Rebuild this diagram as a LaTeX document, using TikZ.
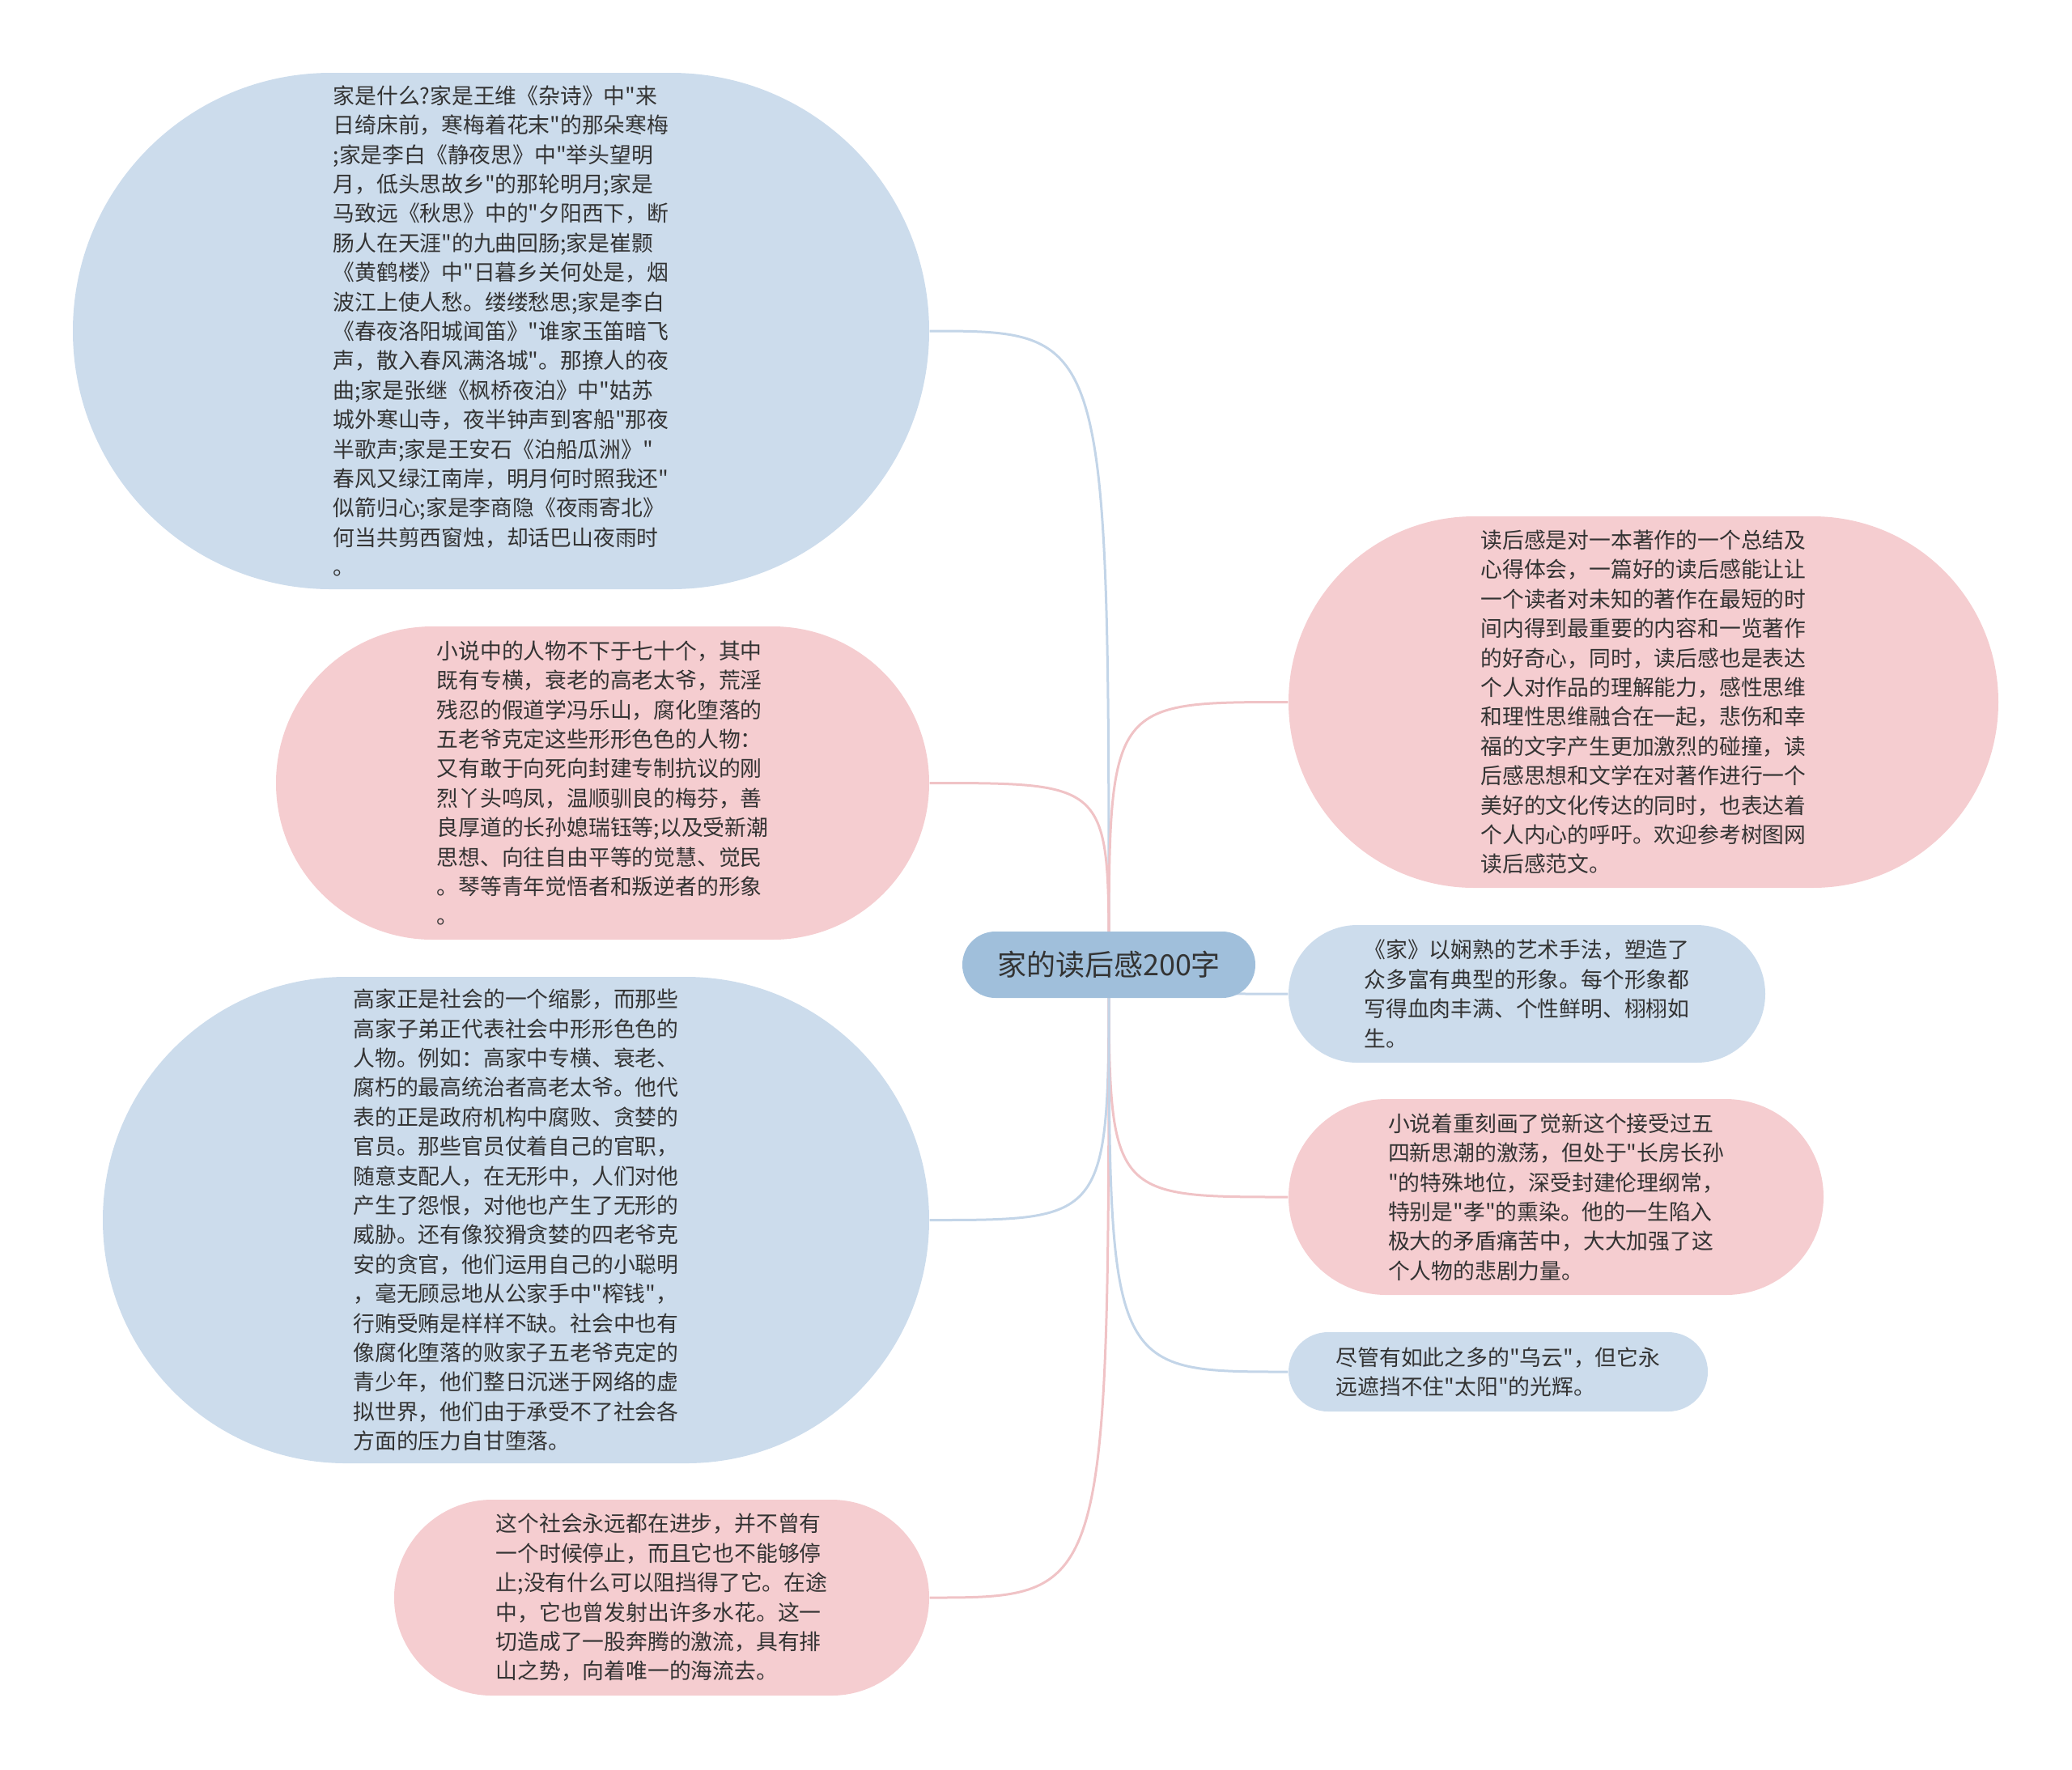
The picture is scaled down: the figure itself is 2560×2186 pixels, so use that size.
\documentclass[tikz,border=0pt]{standalone}
\usepackage{fontspec}
\setmainfont{Noto Sans CJK SC}
\newfontfamily\cjk{Noto Sans CJK SC}
\usetikzlibrary{backgrounds}
\definecolor{bfill}{HTML}{CCDCEC}
\definecolor{pfill}{HTML}{F5CDD0}
\definecolor{cfill}{HTML}{A0BFDB}
\definecolor{bline}{HTML}{C3D5E8}
\definecolor{pline}{HTML}{F0C3C6}
\definecolor{txt}{HTML}{333333}
\tikzset{
  bubble/.style={inner sep=0pt, align=left, text=txt, font=\cjk\fontsize{8.04pt}{10.92pt}\selectfont},
  bluebox/.style={bubble, fill=bfill},
  pinkbox/.style={bubble, fill=pfill},
  rootbox/.style={inner sep=0pt, fill=cfill, text=txt, font=\cjk\fontsize{10.8pt}{13pt}\selectfont,
    minimum width=108.6pt, minimum height=24.6pt, rounded corners=12.25pt},
  link/.style={line width=0.9pt}
}
\begin{document}
\begin{tikzpicture}[x=0.3pt,y=-0.3pt]
\useasboundingbox (0,0) rectangle (2560,2186);

\node[rootbox] (root) at (1370,1192) {家的读后感200字};

\node[bluebox, minimum width=317.4pt, minimum height=191.4pt, rounded corners=95.6pt] (n1) at (619,409) {家是什么?家是王维《杂诗》中"来\\
日绮床前，寒梅着花末"的那朵寒梅\\
;家是李白《静夜思》中"举头望明\\
月，低头思故乡"的那轮明月;家是\\
马致远《秋思》中的"夕阳西下，断\\
肠人在天涯"的九曲回肠;家是崔颢\\
《黄鹤楼》中"日暮乡关何处是，烟\\
波江上使人愁。缕缕愁思;家是李白\\
《春夜洛阳城闻笛》"谁家玉笛暗飞\\
声，散入春风满洛城"。那撩人的夜\\
曲;家是张继《枫桥夜泊》中"姑苏\\
城外寒山寺，夜半钟声到客船"那夜\\
半歌声;家是王安石《泊船瓜洲》"\\
春风又绿江南岸，明月何时照我还"\\
似箭归心;家是李商隐《夜雨寄北》\\
何当共剪西窗烛，却话巴山夜雨时\\
。};

\node[pinkbox, minimum width=242.1pt, minimum height=116.1pt, rounded corners=58pt] (n2) at (744.5,967.5) {小说中的人物不下于七十个，其中\\
既有专横，衰老的高老太爷，荒淫\\
残忍的假道学冯乐山，腐化堕落的\\
五老爷克定这些形形色色的人物：\\
又有敢于向死向封建专制抗议的刚\\
烈丫头鸣凤，温顺驯良的梅芬，善\\
良厚道的长孙媳瑞钰等;以及受新潮\\
思想、向往自由平等的觉慧、觉民\\
。琴等青年觉悟者和叛逆者的形象\\
。};

\node[bluebox, minimum width=306.3pt, minimum height=180.3pt, rounded corners=90.1pt] (n3) at (637.5,1507.5) {高家正是社会的一个缩影，而那些\\
高家子弟正代表社会中形形色色的\\
人物。例如：高家中专横、衰老、\\
腐朽的最高统治者高老太爷。他代\\
表的正是政府机构中腐败、贪婪的\\
官员。那些官员仗着自己的官职，\\
随意支配人，在无形中，人们对他\\
产生了怨恨，对他也产生了无形的\\
威胁。还有像狡猾贪婪的四老爷克\\
安的贪官，他们运用自己的小聪明\\
，毫无顾忌地从公家手中"榨钱"，\\
行贿受贿是样样不缺。社会中也有\\
像腐化堕落的败家子五老爷克定的\\
青少年，他们整日沉迷于网络的虚\\
拟世界，他们由于承受不了社会各\\
方面的压力自甘堕落。};

\node[pinkbox, minimum width=198.3pt, minimum height=72.6pt, rounded corners=36.25pt] (n4) at (817.5,1974) {这个社会永远都在进步，并不曾有\\
一个时候停止，而且它也不能够停\\
止;没有什么可以阻挡得了它。在途\\
中，它也曾发射出许多水花。这一\\
切造成了一股奔腾的激流，具有排\\
山之势，向着唯一的海流去。};

\node[pinkbox, minimum width=263.1pt, minimum height=137.7pt, rounded corners=68.8pt] (n5) at (2030.5,867.5) {读后感是对一本著作的一个总结及\\
心得体会，一篇好的读后感能让让\\
一个读者对未知的著作在最短的时\\
间内得到最重要的内容和一览著作\\
的好奇心，同时，读后感也是表达\\
个人对作品的理解能力，感性思维\\
和理性思维融合在一起，悲伤和幸\\
福的文字产生更加激烈的碰撞，读\\
后感思想和文学在对著作进行一个\\
美好的文化传达的同时，也表达着\\
个人内心的呼吁。欢迎参考树图网\\
读后感范文。};

\node[bluebox, minimum width=176.7pt, minimum height=51pt, rounded corners=25.45pt] (n6) at (1886.5,1228) {《家》以娴熟的艺术手法，塑造了\\
众多富有典型的形象。每个形象都\\
写得血肉丰满、个性鲜明、栩栩如\\
生。};

\node[pinkbox, minimum width=198.3pt, minimum height=72.6pt, rounded corners=36.25pt] (n7) at (1922.5,1479) {小说着重刻画了觉新这个接受过五\\
四新思潮的激荡，但处于"长房长孙\\
"的特殊地位，深受封建伦理纲常，\\
特别是"孝"的熏染。他的一生陷入\\
极大的矛盾痛苦中，大大加强了这\\
个人物的悲剧力量。};

\node[bluebox, minimum width=155.4pt, minimum height=29.4pt, rounded corners=14.65pt] (n8) at (1851,1695) {尽管有如此之多的"乌云"，但它永\\
远遮挡不住"太阳"的光辉。};

\begin{pgfonlayer}{background}
\draw[link, draw=bline] (root.center) .. controls (root.center |- n1.east) .. (n1.east);
\draw[link, draw=pline] (root.center) .. controls (root.center |- n2.east) .. (n2.east);
\draw[link, draw=bline] (root.center) .. controls (root.center |- n3.east) .. (n3.east);
\draw[link, draw=pline] (root.center) .. controls (root.center |- n4.east) .. (n4.east);
\draw[link, draw=pline] (root.center) .. controls (root.center |- n5.west) .. (n5.west);
\draw[link, draw=bline] (root.center) .. controls (root.center |- n6.west) .. (n6.west);
\draw[link, draw=pline] (root.center) .. controls (root.center |- n7.west) .. (n7.west);
\draw[link, draw=bline] (root.center) .. controls (root.center |- n8.west) .. (n8.west);
\end{pgfonlayer}
\end{tikzpicture}
\end{document}
